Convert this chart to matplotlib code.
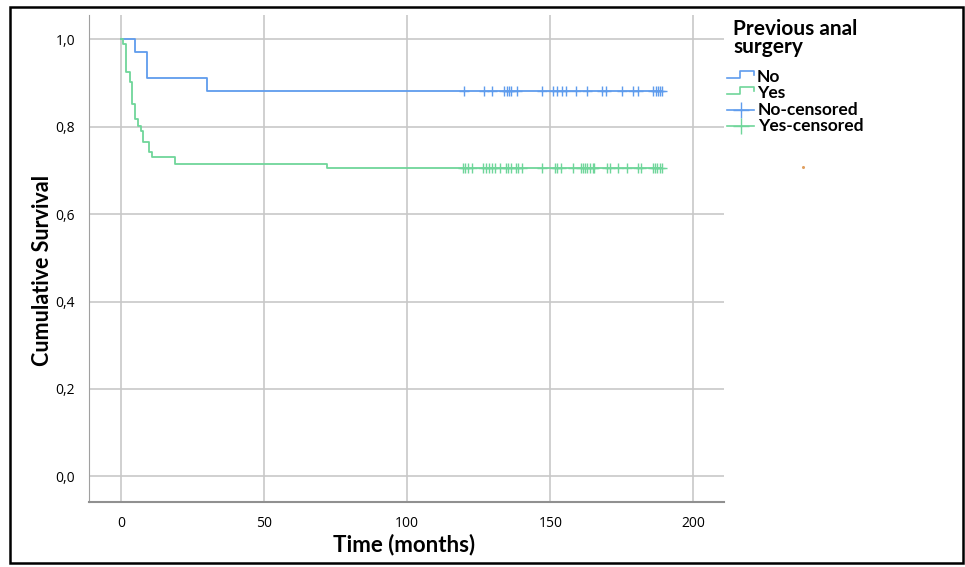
import numpy as np
import matplotlib
matplotlib.use("Agg")
import matplotlib.pyplot as plt
from matplotlib.lines import Line2D
from matplotlib.patches import Rectangle

# Kaplan-Meier steps
no_times = [0, 5, 9, 30, 189]
no_surv = [1.0, 0.971, 0.912, 0.882, 0.882]
yes_times = [0, 0.8, 1.8, 3.1, 4.0, 4.9, 5.8, 6.9, 7.8, 9.9, 10.8, 19.0, 72.0, 189.2]
yes_surv = [1.0, 0.99, 0.926, 0.903, 0.852, 0.817, 0.802, 0.791, 0.766, 0.743, 0.730, 0.716, 0.705, 0.705]

# censored observations
no_cens = [119.8, 126.8, 129.8, 133.9, 134.7, 135.5, 136.4, 138.2, 147.0, 150.8,
           152.2, 154.0, 155.5, 159.0, 162.7, 167.9, 169.3, 174.9, 178.8, 180.7,
           186.0, 186.8, 187.5, 188.2, 188.9]
yes_cens = [119.6, 120.2, 121.3, 122.5, 126.6, 127.7, 128.7, 129.5, 130.7, 132.4,
            134.5, 135.3, 136.1, 138.0, 138.8, 140.0, 147.0, 151.6, 152.4, 153.6,
            158.0, 160.6, 161.3, 162.1, 162.9, 163.8, 164.8, 165.2, 169.9, 170.8,
            173.7, 176.7, 180.7, 181.7, 186.0, 186.6, 187.4, 188.3, 189.2]

xticks = [0, 50, 100, 150, 200]
yticks = [0.0, 0.2, 0.4, 0.6, 0.8, 1.0]

blue = "#5f9ced"
green = "#6fd69a"
bold_font = ["Lato", "DejaVu Sans"]
tick_font = ["Liberation Sans Narrow", "Open Sans", "DejaVu Sans"]

fig = plt.figure(figsize=(9.65, 5.67), dpi=100)
ax = fig.add_axes([89 / 965, 1 - 502 / 567, (724 - 89) / 965, (502 - 15) / 567])

ax.step(no_times, no_surv, where="post", color=blue, lw=1.3)
ax.step(yes_times, yes_surv, where="post", color=green, lw=1.3)
ax.plot(no_cens, [no_surv[-1]] * len(no_cens), ls="none", marker="+", ms=6.5, mew=1.0, color=blue)
ax.plot(yes_cens, [yes_surv[-1]] * len(yes_cens), ls="none", marker="+", ms=6.5, mew=1.0, color=green)

ax.set_xlim(-11.2, 210.7)
ax.set_ylim(-0.059, 1.056)
ax.set_xticks(xticks)
ax.set_yticks(yticks)
ax.set_xticklabels([str(t) for t in xticks], family=tick_font, fontsize=10)
ax.set_yticklabels([f"{t:.1f}".replace(".", ",") for t in yticks], family=tick_font, fontsize=10)
ax.tick_params(length=0, pad=10)
ax.grid(True, color="#c8c8c8", lw=1.2)
ax.set_axisbelow(True)
for s in ["top", "right"]:
    ax.spines[s].set_visible(False)
ax.spines["left"].set_color("#a0a0a0")
ax.spines["bottom"].set_color("#909090")
ax.spines["bottom"].set_linewidth(1.5)

fig.text(43 / 965, 1 - 270 / 567, "Cumulative Survival", rotation=90, ha="center", va="center",
         family=bold_font, fontweight="bold", fontsize=15.5)
fig.text(404 / 965, 1 - 545 / 567, "Time (months)", ha="center", va="center",
         family=bold_font, fontweight="bold", fontsize=16)

# legend drawn by hand to get the step-shaped handles
W, H = 965.0, 567.0
fig.text(733 / W, 1 - 19 / H, "Previous anal\nsurgery", ha="left", va="top", family=bold_font,
         fontweight="bold", fontsize=15, linespacing=0.9)
for yy, col, lab in [(77, blue, "No"), (93, green, "Yes")]:
    xs = np.array([727, 740, 740, 754, 754])
    ys = np.array([yy + 1, yy + 1, yy - 6, yy - 6, yy - 2])
    fig.add_artist(Line2D(xs / W, 1 - ys / H, color=col, lw=1.2))
    fig.text(757 / W, 1 - yy / H, lab, ha="left", va="center", family=bold_font,
             fontweight="bold", fontsize=12.5)
for yy, col, lab in [(110, blue, "No-censored"), (126, green, "Yes-censored")]:
    fig.add_artist(Line2D([727 / W, 754 / W], [1 - yy / H] * 2, color=col, lw=1.2))
    fig.add_artist(Line2D([741 / W], [1 - yy / H], color=col, marker="+", ms=11, mew=1.0))
    fig.text(758 / W, 1 - yy / H, lab, ha="left", va="center", family=bold_font,
             fontweight="bold", fontsize=12.5)

fig.add_artist(Line2D([803 / W], [1 - 167 / H], color="#e0a060", marker="o", ms=1.2, ls="none"))

# outer black frame
fig.add_artist(Rectangle((10 / W, 1 - 563 / H), (963 - 10) / W, (563 - 7) / H, fill=False,
                         ec="black", lw=1.8, transform=fig.transFigure))

plt.savefig("out.png", dpi=100)
plt.close()
